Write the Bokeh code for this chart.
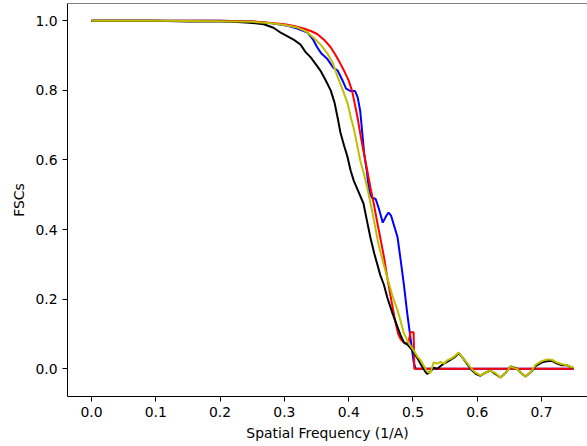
from bokeh.plotting import figure
from bokeh.models import Range1d, FixedTicker, Span, NumeralTickFormatter
from bokeh.embed import file_html
from bokeh.resources import INLINE

# ---- data ----
black_pts = [(0, 1.0), (0.1, 1.0), (0.15, 0.998), (0.2, 0.998), (0.22, 0.997), (0.24, 0.995),
             (0.255, 0.993), (0.268, 0.990), (0.283, 0.980), (0.295, 0.965), (0.305, 0.955),
             (0.315, 0.945), (0.325, 0.932), (0.333, 0.91), (0.341, 0.895), (0.349, 0.875),
             (0.356, 0.857), (0.364, 0.83), (0.372, 0.80), (0.378, 0.765), (0.383, 0.72),
             (0.387, 0.68), (0.393, 0.64), (0.398, 0.61), (0.403, 0.57), (0.408, 0.54),
             (0.415, 0.51), (0.423, 0.475), (0.429, 0.42), (0.434, 0.375), (0.440, 0.33),
             (0.449, 0.27), (0.455, 0.24), (0.460, 0.205), (0.468, 0.16), (0.476, 0.12),
             (0.481, 0.095), (0.486, 0.076), (0.491, 0.07), (0.496, 0.06), (0.502, 0.045),
             (0.507, 0.03), (0.513, 0.01), (0.518, -0.005), (0.522, -0.015), (0.527, -0.008),
             (0.532, 0.003), (0.538, 0.0), (0.543, 0.008), (0.548, 0.015), (0.553, 0.02),
             (0.560, 0.028), (0.566, 0.035), (0.571, 0.045), (0.578, 0.03), (0.585, 0.012),
             (0.592, -0.005), (0.598, -0.015), (0.605, -0.02), (0.612, -0.012), (0.620, -0.005),
             (0.628, -0.015), (0.636, -0.025), (0.644, -0.012), (0.652, 0.007), (0.658, 0.003),
             (0.662, 0.0), (0.668, -0.012), (0.675, -0.022), (0.683, -0.01), (0.691, 0.008),
             (0.700, 0.018), (0.709, 0.022), (0.716, 0.023), (0.724, 0.015), (0.732, 0.01),
             (0.740, 0.01), (0.745, 0.005), (0.75, 0.002)]

yellow_pts = [(0, 1.0), (0.1, 1.0), (0.2, 0.999), (0.25, 0.997), (0.28, 0.993), (0.30, 0.988),
              (0.32, 0.981), (0.335, 0.968), (0.345, 0.952), (0.357, 0.93), (0.367, 0.906),
              (0.375, 0.88), (0.383, 0.838), (0.390, 0.805), (0.398, 0.765), (0.403, 0.725),
              (0.408, 0.69), (0.413, 0.645), (0.418, 0.598), (0.423, 0.565), (0.429, 0.52),
              (0.434, 0.475), (0.440, 0.42), (0.446, 0.36), (0.453, 0.31), (0.460, 0.262),
              (0.468, 0.21), (0.476, 0.168), (0.481, 0.135), (0.486, 0.101), (0.493, 0.075),
              (0.501, 0.053), (0.507, 0.035), (0.512, 0.024), (0.517, 0.008), (0.522, -0.008),
              (0.527, -0.012), (0.532, 0.018), (0.538, 0.015), (0.543, 0.02), (0.548, 0.015),
              (0.553, 0.024), (0.560, 0.03), (0.566, 0.038), (0.571, 0.047), (0.578, 0.03),
              (0.585, 0.015), (0.592, -0.002), (0.598, -0.012), (0.605, -0.019), (0.612, -0.012),
              (0.620, -0.005), (0.628, -0.012), (0.636, -0.025), (0.644, -0.012), (0.652, 0.007),
              (0.658, 0.002), (0.662, 0.0), (0.668, -0.012), (0.675, -0.022), (0.683, -0.01),
              (0.691, 0.012), (0.700, 0.022), (0.709, 0.027), (0.716, 0.026), (0.724, 0.018),
              (0.732, 0.013), (0.740, 0.01), (0.745, 0.006), (0.75, 0.003)]

red_pts = [(0, 1.0), (0.1, 1.0), (0.2, 1.0), (0.25, 0.998), (0.28, 0.994), (0.30, 0.99),
           (0.315, 0.985), (0.330, 0.978), (0.342, 0.970), (0.351, 0.962), (0.362, 0.945),
           (0.372, 0.924), (0.380, 0.90), (0.387, 0.877), (0.394, 0.852), (0.400, 0.828),
           (0.405, 0.80), (0.408, 0.775), (0.414, 0.72), (0.418, 0.676), (0.422, 0.635),
           (0.426, 0.598), (0.431, 0.549), (0.435, 0.51), (0.439, 0.475), (0.444, 0.425),
           (0.449, 0.378), (0.455, 0.32), (0.460, 0.262), (0.466, 0.20), (0.472, 0.14),
           (0.477, 0.10), (0.481, 0.085), (0.487, 0.073), (0.493, 0.074), (0.496, 0.105),
           (0.501, 0.105), (0.502, 0.0), (0.75, 0.0)]

blue_pts = [(0, 1.0), (0.1, 1.0), (0.2, 1.0), (0.25, 0.998), (0.28, 0.993), (0.305, 0.986),
            (0.320, 0.978), (0.336, 0.966), (0.345, 0.945), (0.351, 0.924), (0.358, 0.905),
            (0.367, 0.89), (0.376, 0.865), (0.383, 0.857), (0.390, 0.83), (0.396, 0.805),
            (0.403, 0.798), (0.410, 0.798), (0.414, 0.78), (0.418, 0.74), (0.421, 0.68),
            (0.424, 0.62), (0.428, 0.57), (0.432, 0.51), (0.436, 0.492), (0.442, 0.488),
            (0.447, 0.46), (0.453, 0.42), (0.458, 0.438), (0.462, 0.449), (0.466, 0.44),
            (0.470, 0.415), (0.476, 0.378), (0.481, 0.31), (0.486, 0.24), (0.491, 0.16),
            (0.496, 0.09), (0.501, 0.02), (0.504, 0.0), (0.75, 0.0)]

x_ticks = [0.0, 0.1, 0.2, 0.3, 0.4, 0.5, 0.6, 0.7]
y_ticks = [0.0, 0.2, 0.4, 0.6, 0.8, 1.0]

FONT = "DejaVu Sans"
FS = "13.9px"

p = figure(width=587, height=446, output_backend="svg", toolbar_location=None,
           x_range=Range1d(-0.0373, 0.7714), y_range=Range1d(-0.0796, 1.0497),
           min_border_left=67, min_border_right=0, min_border_top=3, min_border_bottom=50)
p.outline_line_color = None
p.xgrid.visible = False
p.ygrid.visible = False
p.background_fill_color = "white"

for pts, col in [(blue_pts, "#0000ff"), (red_pts, "#ff0000"), (black_pts, "#000000"), (yellow_pts, "#bfbf00")]:
    xs, ys = zip(*pts)
    p.line(list(xs), list(ys), line_color=col, line_width=2)

p.add_layout(Span(location=p.y_range.end, dimension="width", line_color="black", line_width=1))

for ax, ticks in [(p.xaxis, x_ticks), (p.yaxis, y_ticks)]:
    ax.ticker = FixedTicker(ticks=ticks)
    ax.formatter = NumeralTickFormatter(format="0.0")
    ax.major_tick_out = 5
    ax.major_tick_in = 0
    ax.minor_tick_line_color = None
    ax.major_tick_line_color = "black"
    ax.axis_line_color = "black"
    ax.axis_line_width = 1
    ax.major_label_text_font = FONT
    ax.major_label_text_font_size = FS
    ax.major_label_text_color = "black"
    ax.axis_label_text_font = FONT
    ax.axis_label_text_font_size = FS
    ax.axis_label_text_font_style = "normal"
    ax.axis_label_text_color = "black"
    ax.major_label_standoff = 5

p.xaxis.axis_label = "Spatial Frequency (1/A)"
p.yaxis.axis_label = "FSCs"
p.xaxis.axis_label_standoff = 5
p.yaxis.axis_label_standoff = 5

open("out.html", "w").write(file_html(p, INLINE))
